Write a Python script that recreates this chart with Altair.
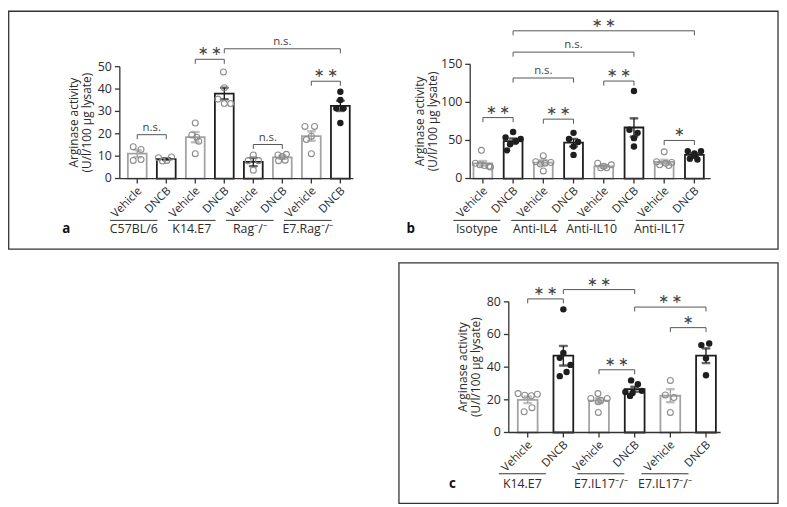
import altair as alt
import pandas as pd

# ---------------- data ----------------
CONDITIONS = ["Vehicle", "DNCB"]
Y_TITLE = ["Arginase activity", "(U/l/100 µg lysate)"]

A_GROUPS = ["C57BL/6", "K14.E7", "Rag⁻/⁻", "E7.Rag⁻/⁻"]
A_MEANS = [11.1, 8.7, 18.5, 38.0, 7.4, 9.5, 19.0, 32.5]
A_SEMS = [1.6, 0.4, 2.3, 2.6, 1.9, 0.7, 2.1, 2.3]
A_POINTS = [
    [14.2, 13.0, 8.1, 8.5],
    [9.3, 7.8, 8.1, 9.6],
    [24.8, 19.5, 18.5, 16.7, 11.1],
    [47.6, 40.6, 35.5, 33.5, 33.5],
    [10.5, 8.0, 8.0, 3.7],
    [10.5, 10.8, 9.8, 8.0, 8.2],
    [23.3, 23.3, 18.9, 17.4, 11.1],
    [38.8, 35.1, 31.4, 31.4, 24.8],
]
A_BRACKETS = [(0, 1, 19.6, "n.s."), (2, 3, 53.3, "**"), (3, 7, 58.0, "n.s."),
              (4, 5, 15.2, "n.s."), (6, 7, 43.5, "**")]
A_YTICKS = [0, 10, 20, 30, 40, 50]

B_GROUPS = ["Isotype", "Anti-IL4", "Anti-IL10", "Anti-IL17"]
B_MEANS = [20, 49, 21, 47, 16, 67, 22, 31]
B_SEMS = [3.0, 3.5, 3.0, 5.0, 1.5, 12.0, 2.5, 2.0]
B_POINTS = [
    [37, 20, 18, 17, 16, 15],
    [61, 54, 52, 49, 45, 37],
    [30, 22, 21, 20, 19, 10],
    [60, 52, 48, 42, 31],
    [20, 18, 16, 14, 14],
    [115, 64, 60, 53, 42],
    [35, 22, 21, 20, 18, 17],
    [36, 36, 33, 30, 26, 25],
]
B_BRACKETS = [(0, 1, 80, "**"), (1, 3, 132, "n.s."), (2, 3, 78, "**"), (4, 5, 128, "**"),
              (1, 5, 166, "n.s."), (1, 7, 194, "**"), (6, 7, 50, "*")]
B_YTICKS = [0, 50, 100, 150]

C_GROUPS = ["K14.E7", "E7.IL17⁻/⁻", "E7.IL17⁻/⁻"]
C_MEANS = [20.0, 47.0, 19.5, 26.5, 22.5, 47.0]
C_SEMS = [2.0, 6.0, 1.5, 1.5, 4.0, 4.5]
C_POINTS = [
    [23.8, 22.8, 22.5, 23.4, 15.2, 12.7],
    [75.4, 48.7, 45.7, 41.4, 37.0, 34.5],
    [20.8, 23.8, 18.8, 19.8, 20.8, 12.3],
    [31.9, 29.5, 24.8, 25.5, 24.2, 22.4],
    [31.9, 23.0, 21.4, 12.3],
    [53.5, 54.5, 45.5, 35.0],
]
C_BRACKETS = [(0, 1, 81.8, "**"), (1, 3, 87.5, "**"), (2, 3, 38.4, "**"),
              (3, 5, 76.8, "**"), (4, 5, 64.2, "*")]
C_YTICKS = [0, 20, 40, 60, 80]

# ---------------- style / layout ----------------
W, H = 779, 499
FONT = "Open Sans"
GRAY = "#a3a3a3"
BLACK = "#1e1e1e"
PT_GRAY = "#8c8c8c"
BR_COL = "#555555"
AX_COL = "#333333"
TXT = "#2b2b2b"

A_JITTER = [
    [-0.14, 0.13, -0.14, 0.13],
    [-0.27, -0.13, 0.02, 0.18],
    [0.0, -0.12, 0.05, 0.12, 0.0],
    [-0.03, 0.0, -0.22, 0.0, 0.22],
    [0.0, -0.18, 0.18, 0.0],
    [-0.15, 0.14, 0.0, -0.13, 0.1],
    [-0.22, 0.11, 0.0, -0.17, 0.0],
    [0.0, 0.0, -0.14, 0.11, 0.0],
]
A_BAR_STYLE = ["g", "k", "g", "k", "k", "g", "g", "k"]
A_FILLED = [False, False, False, False, False, False, False, True]

B_JITTER = [
    [-0.05, -0.25, -0.1, 0.05, 0.2, 0.25],
    [0.0, -0.25, 0.25, 0.1, -0.1, -0.2],
    [0.0, -0.25, 0.25, 0.05, -0.1, 0.0],
    [0.0, -0.15, 0.15, 0.0, 0.0],
    [-0.2, 0.25, 0.0, -0.1, 0.1],
    [0.0, -0.15, 0.12, 0.0, 0.0],
    [0.0, -0.25, 0.25, 0.05, -0.15, 0.15],
    [-0.22, 0.22, 0.0, 0.0, -0.15, 0.1],
]
B_BAR_STYLE = ["g", "k"] * 4
B_FILLED = [False, True] * 4

C_JITTER = [
    [-0.27, -0.08, 0.1, 0.27, 0.12, -0.1],
    [0.0, 0.0, -0.1, 0.2, 0.09, -0.1],
    [-0.23, -0.03, -0.02, 0.05, 0.23, -0.02],
    [-0.1, 0.09, -0.26, 0.2, -0.06, -0.13],
    [0.0, -0.14, 0.1, 0.0],
    [-0.13, 0.09, 0.0, 0.0],
]
C_BAR_STYLE = ["g", "k"] * 3
C_FILLED = [False, True] * 3


def star_text(s):
    return "\u2009".join(["\u2217"] * len(s))


def build_panel(means, sems, points, brackets, groups, yticks,
                jitter, bar_style, filled, group_pos, hw,
                xdom, xrange_px, ydom, yrange_px, leg, bar_w,
                underline_y, group_y, letter, letter_xy, title_offs):
    n = len(means)
    colors = [GRAY if s == "g" else BLACK for s in bar_style]
    xs = alt.Scale(domain=xdom, range=xrange_px, nice=False, zero=False)
    ys = alt.Scale(domain=ydom, range=yrange_px, nice=False, zero=False)

    def X(f):
        return alt.X(f, scale=xs, axis=None)

    def Y(f):
        return alt.Y(f, scale=ys, axis=None)

    layers = []

    # ---- bars, error bars, points ----
    bar_df = pd.DataFrame({
        "i": list(range(n)), "mean": means,
        "lo": [m - s for m, s in zip(means, sems)],
        "hi": [m + s for m, s in zip(means, sems)],
        "col": colors,
    })
    layers.append(alt.Chart(bar_df).mark_bar(size=bar_w, fill="white", strokeWidth=1.8).encode(
        x=X("i:Q"), y=Y("mean:Q"), y2=alt.datum(0),
        stroke=alt.Stroke("col:N", scale=None)))
    layers.append(alt.Chart(bar_df).mark_rule(strokeWidth=1.4).encode(
        x=X("i:Q"), y=Y("lo:Q"), y2="hi:Q", stroke=alt.Stroke("col:N", scale=None)))
    cap_rows = []
    for r in bar_df.itertuples():
        cap_rows.append({"i": r.i, "v": r.lo, "col": r.col})
        cap_rows.append({"i": r.i, "v": r.hi, "col": r.col})
    layers.append(alt.Chart(pd.DataFrame(cap_rows)).mark_tick(
        orient="horizontal", size=8, thickness=1.4).encode(
        x=X("i:Q"), y=Y("v:Q"), stroke=alt.Stroke("col:N", scale=None),
        fill=alt.Fill("col:N", scale=None)))

    pts = []
    for gi, (vals, jit) in enumerate(zip(points, jitter)):
        for v, j in zip(vals, jit):
            pts.append({"x": gi + j, "v": v, "f": filled[gi]})
    pdf = pd.DataFrame(pts)
    open_df = pdf[~pdf["f"]]
    fill_df = pdf[pdf["f"]]
    if len(open_df):
        layers.append(alt.Chart(open_df).mark_point(shape="circle", filled=False, size=36,
                                                     strokeWidth=1.1, color=PT_GRAY, opacity=1).encode(
            x=X("x:Q"), y=Y("v:Q")))
    if len(fill_df):
        layers.append(alt.Chart(fill_df).mark_circle(size=42, color=BLACK, opacity=1).encode(
            x=X("x:Q"), y=Y("v:Q")))

    # ---- axes drawn through the panel scales ----
    frame = alt.Chart(pd.DataFrame({"x0": [xdom[0]], "x1": [xdom[1]], "y0": [ydom[0]],
                                    "y1": [ydom[1]], "ym": [(ydom[0] + ydom[1]) / 2],
                                    "t1": [Y_TITLE[0]], "t2": [Y_TITLE[1]]}))
    layers.append(frame.mark_rule(color=AX_COL, strokeWidth=1.3).encode(
        x=X("x0:Q"), y=Y("y0:Q"), y2="y1:Q"))
    layers.append(frame.mark_rule(color=AX_COL, strokeWidth=1.3).encode(
        x=X("x0:Q"), x2="x1:Q", y=Y("y0:Q")))
    for fld, off in zip(["t1", "t2"], title_offs):
        layers.append(frame.mark_text(angle=270, align="center", baseline="middle",
                                      fontSize=12, xOffset=off, color=TXT).encode(
            x=X("x0:Q"), y=Y("ym:Q"), text=fld + ":N"))

    yt = pd.DataFrame({"v": yticks, "x0": xdom[0], "lab": [str(t) for t in yticks]})
    layers.append(alt.Chart(yt).mark_rule(color=AX_COL, strokeWidth=1.3, x2Offset=-5).encode(
        x=X("x0:Q"), x2="x0:Q", y=Y("v:Q")))
    layers.append(alt.Chart(yt).mark_text(align="right", baseline="middle", xOffset=-8,
                                          fontSize=12.5, color=TXT).encode(
        x=X("x0:Q"), y=Y("v:Q"), text="lab:N"))

    xt = pd.DataFrame({"i": list(range(n)), "y0": ydom[0],
                       "lab": [CONDITIONS[i % 2] for i in range(n)]})
    layers.append(alt.Chart(xt).mark_rule(color=AX_COL, strokeWidth=1.3, y2Offset=5).encode(
        x=X("i:Q"), y=Y("y0:Q"), y2="y0:Q"))
    layers.append(alt.Chart(xt).mark_text(angle=315, align="right", baseline="middle",
                                          xOffset=3, yOffset=11, fontSize=11.5,
                                          color=TXT).encode(
        x=X("i:Q"), y=Y("y0:Q"), text="lab:N"))

    # ---- significance brackets ----
    br_df = pd.DataFrame({
        "x1": [b[0] for b in brackets], "x2": [b[1] for b in brackets],
        "top": [b[2] for b in brackets], "bot": [b[2] - leg for b in brackets],
        "mid": [(b[0] + b[1]) / 2 for b in brackets],
        "label": [b[3] for b in brackets],
        "star": [star_text(b[3]) if b[3] != "n.s." else "" for b in brackets],
    })
    layers.append(alt.Chart(br_df).mark_rule(color=BR_COL, strokeWidth=1).encode(
        x=X("x1:Q"), x2="x2:Q", y=Y("top:Q")))
    leg_rows = []
    for r in br_df.itertuples():
        leg_rows.append({"x": r.x1, "top": r.top, "bot": r.bot})
        leg_rows.append({"x": r.x2, "top": r.top, "bot": r.bot})
    layers.append(alt.Chart(pd.DataFrame(leg_rows)).mark_rule(color=BR_COL, strokeWidth=1).encode(
        x=X("x:Q"), y=Y("top:Q"), y2="bot:Q"))
    ns_df = br_df[br_df["label"] == "n.s."]
    st_df = br_df[br_df["label"] != "n.s."]
    if len(ns_df):
        layers.append(alt.Chart(ns_df).mark_text(baseline="bottom", dy=-2, fontSize=11.5,
                                                 color="#444444").encode(
            x=X("mid:Q"), y=Y("top:Q"), text="label:N"))
    if len(st_df):
        layers.append(alt.Chart(st_df).mark_text(baseline="middle", dy=-8, fontSize=13,
                                                 font="DejaVu Sans", color="#444444").encode(
            x=X("mid:Q"), y=Y("top:Q"), text="star:N"))

    # ---- group labels ----
    g_df = pd.DataFrame({
        "c": group_pos, "name": groups,
        "l": [c - hw for c in group_pos], "r": [c + hw for c in group_pos],
    })
    layers.append(alt.Chart(g_df).mark_rule(color="#333333", strokeWidth=1).encode(
        x=X("l:Q"), x2="r:Q", y=alt.value(underline_y)))
    layers.append(alt.Chart(g_df).mark_text(baseline="middle", fontSize=12.5, color=TXT).encode(
        x=X("c:Q"), y=alt.value(group_y), text="name:N"))
    layers.append(alt.Chart(pd.DataFrame({"t": [letter]})).mark_text(
        fontWeight="bold", fontSize=13.5, baseline="middle", color="#111111").encode(
        x=alt.value(letter_xy[0]), y=alt.value(letter_xy[1]), text="t:N"))
    return alt.layer(*layers)


panel_a = build_panel(A_MEANS, A_SEMS, A_POINTS, A_BRACKETS, A_GROUPS, A_YTICKS,
                      A_JITTER, A_BAR_STYLE, A_FILLED,
                      [-0.12, 1.88, 3.88, 5.88], 0.82,
                      [-0.6, 7.45], [108, 354], [0, 50], [169.7, 56.7], 2.0, 19,
                      212, 221, "a", (59, 221), (-46, -33))
panel_b = build_panel(B_MEANS, B_SEMS, B_POINTS, B_BRACKETS, B_GROUPS, B_YTICKS,
                      B_JITTER, B_BAR_STYLE, B_FILLED,
                      [-0.2, 1.72, 3.6, 5.84], 0.78,
                      [-0.42, 7.54], [462, 715], [0, 150], [169.7, 54.3], 6.0, 19,
                      212, 221, "b", (407, 221), (-51, -38))
panel_c = build_panel(C_MEANS, C_SEMS, C_POINTS, C_BRACKETS, C_GROUPS, C_YTICKS,
                      C_JITTER, C_BAR_STYLE, C_FILLED,
                      [-0.15, 2.05, 3.85], 0.66,
                      [-0.53, 5.41], [501, 725], [0, 80], [426.3, 294.3], 2.7, 20,
                      468, 478, "c", (449, 478), (-46, -33))

frame_df = pd.DataFrame({"k": [0]})
frame_top = alt.Chart(frame_df).mark_rect(fill="transparent", stroke="#333333", strokeWidth=1.3).encode(
    x=alt.value(0.7), x2=alt.value(778), y=alt.value(0.7), y2=alt.value(241))
frame_bottom = alt.Chart(frame_df).mark_rect(fill="transparent", stroke="#333333", strokeWidth=1.3).encode(
    x=alt.value(395), x2=alt.value(778), y=alt.value(255), y2=alt.value(498))

chart = alt.layer(frame_top, frame_bottom, panel_a, panel_b, panel_c).resolve_scale(
    x="independent", y="independent"
).properties(
    width=W, height=H, padding=0, autosize=alt.AutoSizeParams(type="none")
).configure_view(stroke=None).configure_text(font=FONT)

chart.save("out.html", embed_options={"renderer": "svg", "actions": False})
